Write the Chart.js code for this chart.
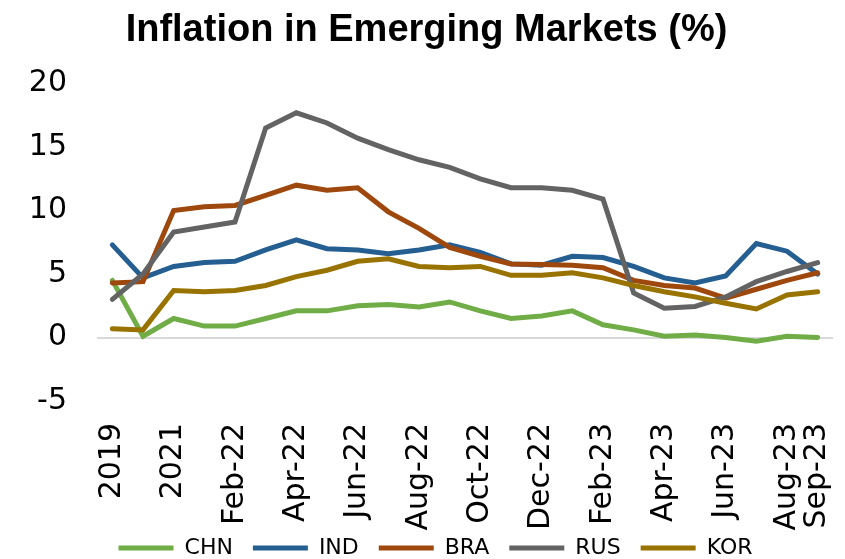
<!DOCTYPE html>
<html>
<head>
<meta charset="utf-8">
<script src="https://cdn.jsdelivr.net/npm/chart.js@4/dist/chart.umd.min.js"></script>
<style>
  html, body { margin: 0; padding: 0; background: #fff; }
  #wrap { width: 845px; height: 559px; }
</style>
</head>
<body>
<div id="wrap"><canvas id="chart"></canvas></div>
<script>
const categories = [
  "2019", "2020", "2021", "Jan-22", "Feb-22", "Mar-22", "Apr-22", "May-22",
  "Jun-22", "Jul-22", "Aug-22", "Sep-22", "Oct-22", "Nov-22", "Dec-22",
  "Jan-23", "Feb-23", "Mar-23", "Apr-23", "May-23", "Jun-23", "Jul-23",
  "Aug-23", "Sep-23",
];

const chn = [4.5, 0.1, 1.5, 0.9, 0.9, 1.5, 2.1, 2.1, 2.5, 2.6, 2.4, 2.8, 2.1, 1.5, 1.7, 2.1, 1.0, 0.6, 0.1, 0.2, 0.0, -0.3, 0.1, 0.0];
const ind = [7.3, 4.7, 5.6, 5.9, 6.0, 6.9, 7.7, 7.0, 6.9, 6.6, 6.9, 7.3, 6.7, 5.8, 5.7, 6.4, 6.3, 5.6, 4.7, 4.3, 4.85, 7.4, 6.8, 5.0];
const bra = [4.3, 4.4, 10.0, 10.3, 10.4, 11.2, 12.0, 11.6, 11.8, 9.9, 8.6, 7.1, 6.4, 5.8, 5.75, 5.7, 5.5, 4.5, 4.1, 3.9, 3.1, 3.8, 4.5, 5.1];
const rus = [3.0, 5.0, 8.3, 8.7, 9.1, 16.5, 17.7, 16.9, 15.7, 14.8, 14.0, 13.4, 12.5, 11.8, 11.8, 11.6, 10.9, 3.5, 2.3, 2.45, 3.2, 4.4, 5.2, 5.9];
const kor = [0.7, 0.6, 3.7, 3.6, 3.7, 4.1, 4.8, 5.3, 6.0, 6.2, 5.6, 5.5, 5.6, 4.9, 4.9, 5.1, 4.7, 4.1, 3.6, 3.2, 2.7, 2.25, 3.35, 3.6];

const FONT = "'DejaVu Sans', sans-serif";
const TITLE_FONT = "'Liberation Sans', Arial, sans-serif";

// Excel draws later series on top; Chart.js draws low "order" last
const series = [
  { label: "CHN", data: chn, color: "#70AD47" },
  { label: "IND", data: ind, color: "#255E91" },
  { label: "BRA", data: bra, color: "#9E480E" },
  { label: "RUS", data: rus, color: "#636363" },
  { label: "KOR", data: kor, color: "#997300" },
];

const datasets = series.map((s, i) => ({
  label: s.label,
  data: s.data,
  borderColor: s.color,
  backgroundColor: s.color,
  borderWidth: 5,
  borderCapStyle: "round",
  pointRadius: 0,
  tension: 0,
  order: series.length - i,
}));

const lastIndex = categories.length - 1;

// tick labels overlap the legend / margins like in the original, so don't clip them
const noLabelClip = (scale) => { scale._computeLabelArea = () => undefined; };

// legend sits a little right of the title in the original
const legendShift = {
  id: "legendShift",
  afterLayout(chart) {
    chart.legend.left += 9;
    chart.legend.right += 9;
  },
};

new Chart(document.getElementById("chart"), {
  type: "line",
  data: { labels: categories, datasets },
  plugins: [legendShift],
  options: {
    responsive: true,
    maintainAspectRatio: false,
    animation: false,
    layout: { padding: { left: 20, right: 12, top: 0, bottom: -10 } },
    plugins: {
      title: {
        display: true,
        text: "Inflation in Emerging Markets (%)",
        color: "#000",
        font: { family: TITLE_FONT, size: 38, weight: "bold" },
        padding: { top: 8, bottom: 30 },
      },
      legend: {
        position: "bottom",
        labels: {
          usePointStyle: true,
          pointStyle: "line",
          pointStyleWidth: 55,
          color: "#000",
          font: { family: FONT, size: 22 },
          padding: 20,
          sort: (a, b) => a.datasetIndex - b.datasetIndex,
        },
      },
      tooltip: { enabled: false },
    },
    scales: {
      x: {
        offset: true,
        grid: { display: false, drawTicks: false },
        border: { display: false },
        ticks: {
          autoSkip: false,
          minRotation: 90,
          maxRotation: 90,
          padding: 22,
          color: "#000",
          font: { family: FONT, size: 30 },
          callback: (val, i) => (i % 2 === 0 || i === lastIndex ? categories[i] : ""),
        },
        afterFit: (scale) => {
          scale.height = 116;
          scale.paddingLeft = 0;
          scale.paddingRight = 0;
          noLabelClip(scale);
        },
      },
      y: {
        min: -5,
        max: 20,
        grid: {
          drawTicks: false,
          lineWidth: 2,
          color: (ctx) => (ctx.tick && ctx.tick.value === 0 ? "#D9D9D9" : "rgba(0,0,0,0)"),
        },
        border: { display: false },
        ticks: {
          stepSize: 5,
          padding: 30,
          color: "#000",
          font: { family: FONT, size: 30 },
        },
        afterFit: (scale) => {
          scale.width = 77;
          noLabelClip(scale);
        },
      },
    },
  },
});
</script>
</body>
</html>
